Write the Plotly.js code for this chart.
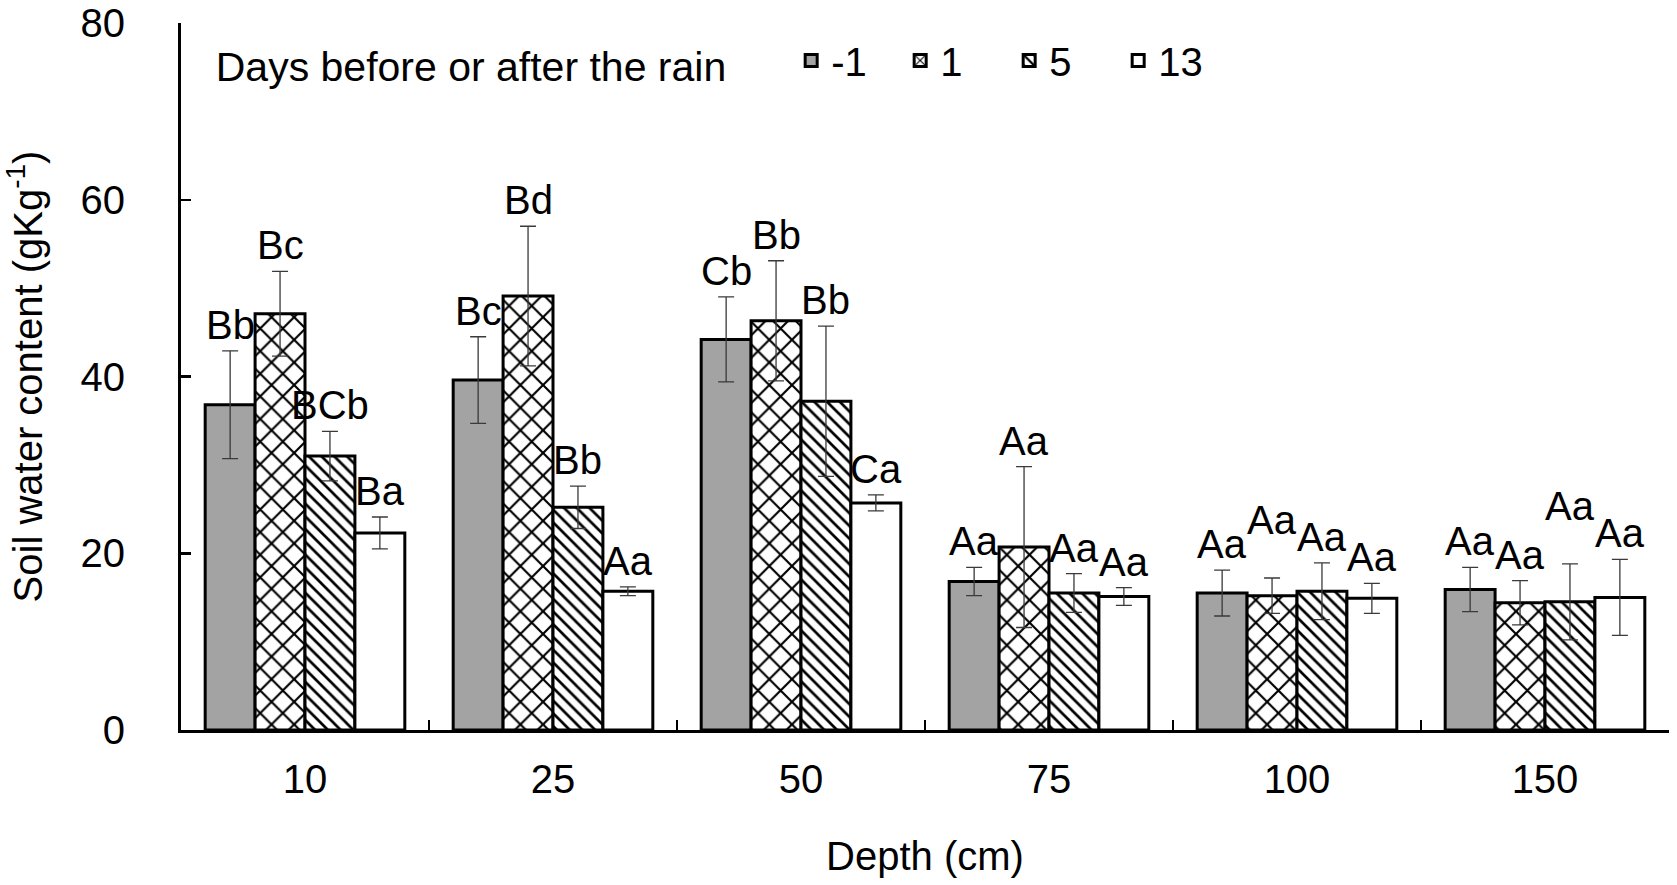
<!DOCTYPE html>
<html>
<head>
<meta charset="utf-8">
<script src="https://cdn.plot.ly/plotly-3.0.1.min.js"></script>
<style>
  body { margin: 0; background: white; }
  #graphe { width: 1677px; height: 885px; }
</style>
</head>
<body>
<div id="graphe"></div>
<script>
// profondeurs (cm) et jours avant / apres la pluie
let profondeurs = ["10", "25", "50", "75", "100", "150"]
let jours = ["-1", "1", "5", "13"]

// teneur en eau du sol (g/kg)
let teneur_m1 = [36.8, 39.6, 44.2, 16.8, 15.5, 15.9]
let teneur_1 = [47.1, 49.1, 46.3, 20.7, 15.2, 14.4]
let teneur_5 = [31.0, 25.2, 37.2, 15.5, 15.7, 14.5]
let teneur_13 = [22.3, 15.7, 25.7, 15.1, 14.9, 15.0]

// ecarts types
let erreur_m1 = [6.1, 4.9, 4.8, 1.6, 2.6, 2.5]
let erreur_1 = [4.8, 7.9, 6.8, 9.1, 2.0, 2.5]
let erreur_5 = [2.8, 2.4, 8.5, 2.2, 3.2, 4.3]
let erreur_13 = [1.8, 0.5, 0.9, 1.0, 1.7, 4.3]

// lettres de significativite
let lettres_m1 = ["Bb", "Bc", "Cb", "Aa", "Aa", "Aa"]
let lettres_1 = ["Bc", "Bd", "Bb", "Aa", "Aa", "Aa"]
let lettres_5 = ["BCb", "Bb", "Bb", "Aa", "Aa", "Aa"]
let lettres_13 = ["Ba", "Aa", "Ca", "Aa", "Aa", "Aa"]

let police = "Liberation Sans, Arial, sans-serif"
let bargap = 0.195

let series = [
    {valeurs: teneur_m1, erreurs: erreur_m1, lettres: lettres_m1,
        marker: {color: "#a3a3a3", line: {color: "black", width: 3}}},
    {valeurs: teneur_1, erreurs: erreur_1, lettres: lettres_1,
        marker: {color: "white", line: {color: "black", width: 3},
            pattern: {shape: "x", fgcolor: "black", bgcolor: "white", size: 16, solidity: 0.25, fillmode: "replace"}}},
    {valeurs: teneur_5, erreurs: erreur_5, lettres: lettres_5,
        marker: {color: "white", line: {color: "black", width: 3},
            pattern: {shape: "\\", fgcolor: "black", bgcolor: "white", size: 9, solidity: 0.3, fillmode: "replace"}}},
    {valeurs: teneur_13, erreurs: erreur_13, lettres: lettres_13,
        marker: {color: "white", line: {color: "black", width: 3}}}
]

let data = new Array()
let annotations = new Array()
let largeur_barre = (1 - bargap) / jours.length
// quelques lettres sont plus hautes sur la figure
let decalages = {"4-1": 32, "5-2": 32}

series.forEach((s, j) => {
    data.push({
        x: profondeurs, y: s.valeurs, type: "bar", name: jours[j],
        marker: s.marker,
        error_y: {type: "data", array: s.erreurs, visible: true,
            color: "#3a3a3a", thickness: 1.3, width: 8}
    })
    for (let i = 0; i < profondeurs.length; i++){
        let cle = i + "-" + j
        annotations.push({
            x: i + (j - 1.5) * largeur_barre, xref: "x",
            y: s.valeurs[i] + s.erreurs[i], yref: "y",
            text: s.lettres[i], showarrow: false,
            yanchor: "bottom", yshift: 2 + (decalages[cle] || 0),
            font: {family: police, size: 40, color: "black"}
        })
    }
})

let layout = {
    width: 1677,
    height: 885,
    margin: {l: 181, r: 8, t: 23, b: 155, pad: 0},
    paper_bgcolor: "white",
    plot_bgcolor: "white",
    font: {family: police, size: 40, color: "black"},
    barmode: "group",
    bargap: bargap,
    bargroupgap: 0,
    showlegend: true,
    legend: {
        orientation: "h",
        x: 0.022, xanchor: "left",
        y: 0.993, yanchor: "top",
        bgcolor: "rgba(0,0,0,0)",
        font: {family: police, size: 40},
        title: {text: "Days before or after the rain&nbsp;&nbsp;&nbsp;&nbsp;&nbsp;", side: "left", font: {family: police, size: 41}},
        itemwidth: 30,
        entrywidth: 64,
        traceorder: "normal"
    },
    xaxis: {
        type: "category",
        showline: true, linecolor: "black", linewidth: 3,
        ticks: "inside", tickson: "boundaries", ticklen: 10, tickwidth: 2.5, tickcolor: "black",
        ticklabelstandoff: 12,
        showgrid: false, zeroline: false,
        tickfont: {family: police, size: 40},
        title: {text: "Depth (cm)", standoff: 42, font: {family: police, size: 40}}
    },
    yaxis: {
        range: [0, 80], dtick: 20,
        showline: true, linecolor: "black", linewidth: 3,
        ticks: "inside", ticklen: 10, tickwidth: 2.5, tickcolor: "black",
        ticklabelstandoff: 45,
        showgrid: false, zeroline: false,
        tickfont: {family: police, size: 40},
        title: {text: "Soil water content (gKg<sup>-1</sup>)", standoff: 32, font: {family: police, size: 40}}
    },
    annotations: annotations
}

Plotly.newPlot("graphe", data, layout, {staticPlot: true})
</script>
</body>
</html>
